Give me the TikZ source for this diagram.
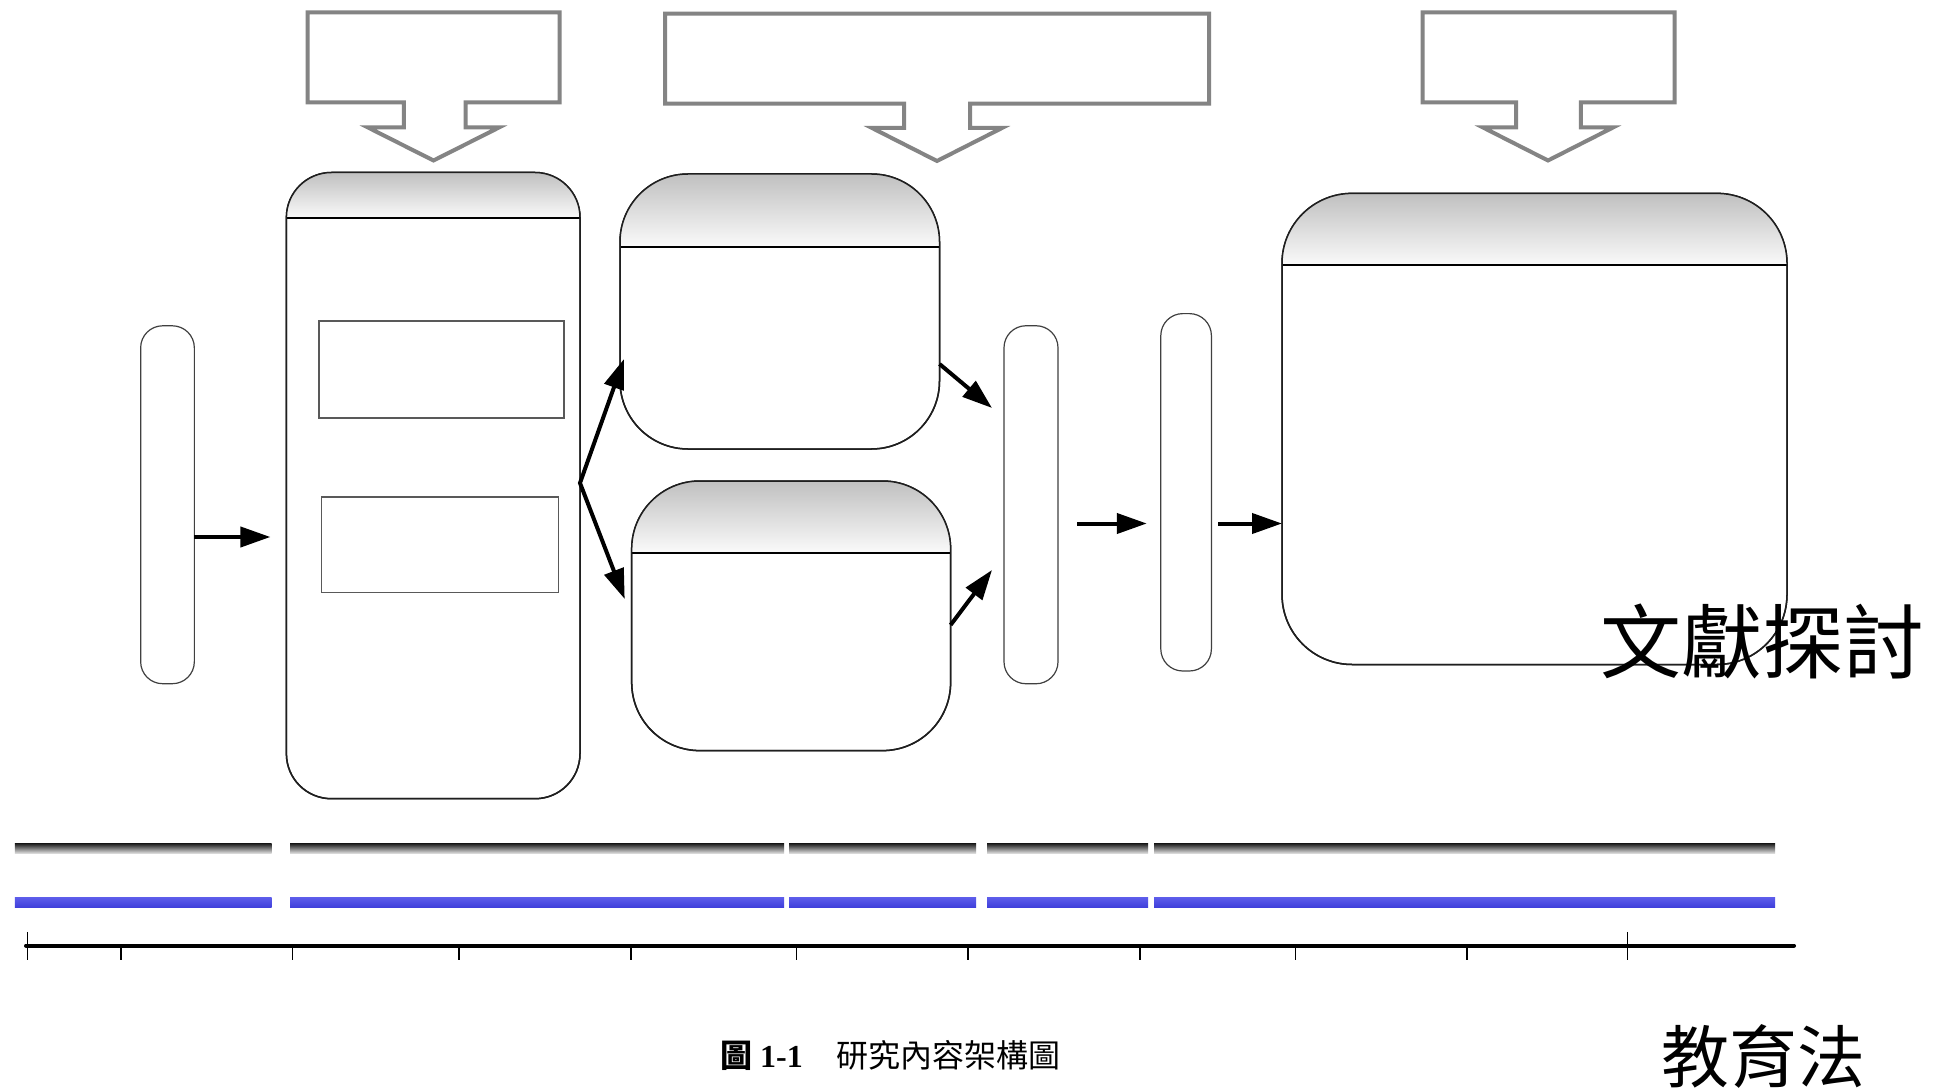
\documentclass[tikz,border=0pt]{standalone}
\usepackage{fontspec}
\setmainfont{Liberation Serif}
\newfontfamily\cjk{Noto Sans CJK TC}
\usetikzlibrary{arrows.meta,calc}
\definecolor{hdrtop}{RGB}{192,192,192}
\definecolor{hdrbot}{RGB}{250,250,250}
\definecolor{bluetop}{RGB}{92,92,234}
\definecolor{bluebot}{RGB}{62,62,218}
\definecolor{callgrey}{RGB}{132,132,132}
\newcommand\panelhdr[3]{%
  \begin{scope}
    \clip[rounded corners=#2] (#1.south west) rectangle (#1.north east);
    \shade[top color=hdrtop,bottom color=hdrbot] (#1.north west) rectangle ($(#1.north east)+(0,#3)$);
  \end{scope}
  \draw[line width=2.2pt,black] ($(#1.north west)+(0,#3)$) -- ($(#1.north east)+(0,#3)$);
  \draw[draw=black!88, line width=1.5pt, rounded corners=#2] (#1.south west) rectangle (#1.north east);
}
\begin{document}
\begin{tikzpicture}[x=1pt,y=-1pt,
  panel/.style={draw=black!88, line width=1.5pt, rounded corners=#1, inner sep=0pt, outer sep=0pt, fill=white},
  pill/.style={draw=black!75, line width=1.2pt, rounded corners=22pt, inner sep=0pt, outer sep=0pt, fill=white},
  inrect/.style={draw=black!65, line width=1.2pt, inner sep=0pt, outer sep=0pt},
  callout/.style={draw=callgrey, line width=4pt, line join=miter},
  arr/.style={line width=4pt, -{Triangle[length=30pt,width=20pt]}},
  darr/.style={line width=4pt, {Triangle[length=30pt,width=20pt]}-{Triangle[length=30pt,width=20pt]}},
  gbar/.style={top color=black!92, bottom color=black!12},
  bbar/.style={top color=bluetop, bottom color=bluebot},
  tick/.style={line width=1.5pt}
]
\useasboundingbox (0,0) rectangle (1935,1091);
\fill[white] (0,0) rectangle (1935,1091);

% callouts
\draw[callout] (307.5,12.4) -- (559.5,12.4) -- (559.5,102.5) -- (465.6,102.5) -- (465.6,127.5) -- (499,127.5) -- (433.5,160.5) -- (368,127.5) -- (403.8,127.5) -- (403.8,102.5) -- (307.5,102.5) -- cycle;
\draw[callout] (665,13.6) -- (1209,13.6) -- (1209,103.7) -- (970,103.7) -- (970,128) -- (1002,128) -- (937,161) -- (872,128) -- (904,128) -- (904,103.7) -- (665,103.7) -- cycle;
\draw[callout] (1422.7,12.4) -- (1674.7,12.4) -- (1674.7,102.5) -- (1580.8,102.5) -- (1580.8,127.5) -- (1613,127.5) -- (1548,160.5) -- (1483,127.5) -- (1516,127.5) -- (1516,102.5) -- (1422.7,102.5) -- cycle;

% panels
\node[pill, minimum width=53.7pt, minimum height=357.9pt] (A) at (167.5,504.75) {};
\node[panel=45pt, minimum width=293.6pt, minimum height=626.2pt] (B) at (433.2,485.6) {};
\panelhdr{B}{45pt}{45.5}
\node[panel=68pt, minimum width=319.5pt, minimum height=275pt] (C) at (779.75,311.5) {};
\panelhdr{C}{68pt}{72.7}
\node[panel=68pt, minimum width=318.9pt, minimum height=269.6pt] (D) at (791.15,615.8) {};
\panelhdr{D}{68pt}{72}
\node[panel=70pt, minimum width=505pt, minimum height=471.1pt] (E) at (1534.5,428.95) {};
\panelhdr{E}{70pt}{72}
\node[pill, minimum width=54pt, minimum height=358pt] (F) at (1031,504.75) {};
\node[pill, minimum width=50.6pt, minimum height=357.4pt] (G) at (1186.1,492.3) {};
\node[inrect, minimum width=245pt, minimum height=97pt] (r1) at (441.5,369.5) {};
\node[inrect, minimum width=237pt, minimum height=95.5pt] (r2) at (440.1,544.75) {};

% helper rows
\coordinate (h1) at (0,537);
\coordinate (h2) at (0,359);
\coordinate (h3) at (0,483);
\coordinate (h4) at (0,599);
\coordinate (h5) at (0,364);
\coordinate (h6) at (0,408);
\coordinate (h7) at (0,625);
\coordinate (h8) at (0,570);
\coordinate (h9) at (0,523.5);

% arrows
\draw[arr, shorten >=16pt] (A.east |- h1) -- (B.west |- h1);
\draw[darr] ($(C.west |- h2)+(4,0)$) -- (B.east |- h3) -- ($(D.west |- h4)+(-7,0)$);
\draw[arr] (C.east |- h5) -- ($(F.west |- h6)+(-12,0)$);
\draw[arr] (D.east |- h7) -- ($(F.west |- h8)+(-12,0)$);
\draw[arr] ($(F.east |- h9)+(19,0)$) -- ($(G.west |- h9)+(-14,0)$);
\draw[arr] ($(G.east |- h9)+(7,0)$) -- (E.west |- h9);

% bars
\foreach \a/\b in {14.8/271.7, 290/784, 789/976, 987/1148, 1154/1775} {
  \shade[gbar] (\a,843) rectangle (\b,853.4);
  \shade[bbar] (\a,897.7) rectangle (\b,907.7);
}

% axis
\draw[line width=4pt, line cap=round] (26,945.5) -- (1794,945.5);
\foreach \x in {121,292.7,459,631,796.6,968,1140,1295.5,1467} {
  \draw[tick] (\x,945.5) -- (\x,959.5);
}
\draw[tick] (27.3,931.8) -- (27.3,959.5);
\draw[tick] (1627.7,931.8) -- (1627.7,959.5);

% texts
\node[anchor=base west, inner sep=0pt, font=\cjk\fontsize{81}{81}\selectfont] (t1) at (1600,672) {文獻探討};
\node[anchor=base west, inner sep=0pt, font=\cjk\fontsize{68}{68}\selectfont] (t2) at (1661,1082) {教育法};
\node[anchor=base west, inner sep=0pt, font=\fontsize{32}{32}\selectfont] (cap) at (720,1067) {{\cjk\bfseries 圖}\hspace{8pt}\textbf{1-1}\hspace{34pt}{\cjk 研究內容架構圖}};
\end{tikzpicture}
\end{document}
